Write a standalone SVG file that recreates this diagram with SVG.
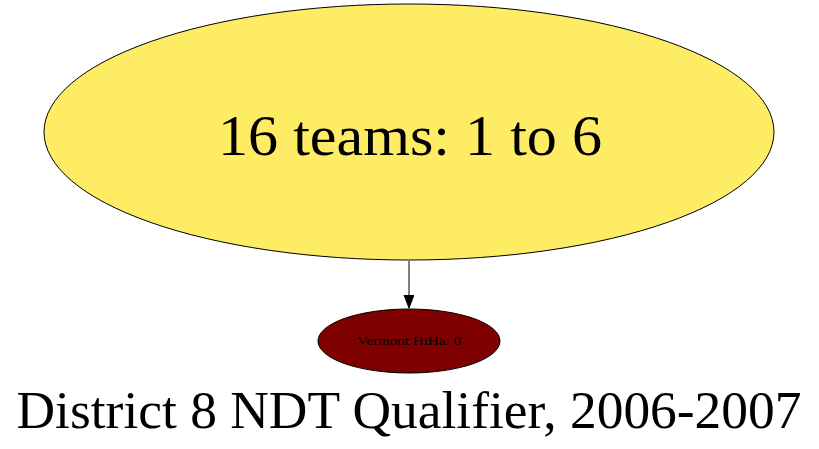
<svg xmlns="http://www.w3.org/2000/svg" width="819" height="449" viewBox="0 0 819 449">
  <style>
    .node-shape { stroke: #000000; stroke-width: 1; }
    .label { font-family: "Liberation Serif", "Times New Roman", serif; text-anchor: middle; fill: #000000; }
    .edge { stroke: #000000; stroke-width: 1; fill: none; }
  </style>
  <defs>
    <marker id="arrowhead" markerWidth="14" markerHeight="12" refX="13" refY="5" orient="auto" markerUnits="userSpaceOnUse">
      <path d="M0,0 L13,5 L0,10 Z" fill="#000000" stroke="#000000"/>
    </marker>
  </defs>
  <rect width="819" height="449" fill="#ffffff"/>
  <g id="edges">
    <line class="edge" x1="409" y1="261" x2="409" y2="308" marker-end="url(#arrowhead)"/>
  </g>
  <g id="node-teams">
    <ellipse class="node-shape" cx="409" cy="132" rx="365" ry="128" fill="#ffec65"/>
    <text class="label" x="410" y="155" font-size="56" textLength="384" lengthAdjust="spacingAndGlyphs">16 teams: 1 to 6</text>
  </g>
  <g id="node-vermont">
    <ellipse class="node-shape" cx="409" cy="341" rx="91" ry="32" fill="#7f0000"/>
    <text class="label" x="409" y="345" font-size="12" textLength="104" lengthAdjust="spacingAndGlyphs">Vermont HiHa: 0</text>
  </g>
  <g id="title">
    <text class="label" x="409" y="428" font-size="52" textLength="785" lengthAdjust="spacingAndGlyphs">District 8 NDT Qualifier, 2006-2007</text>
  </g>
</svg>
